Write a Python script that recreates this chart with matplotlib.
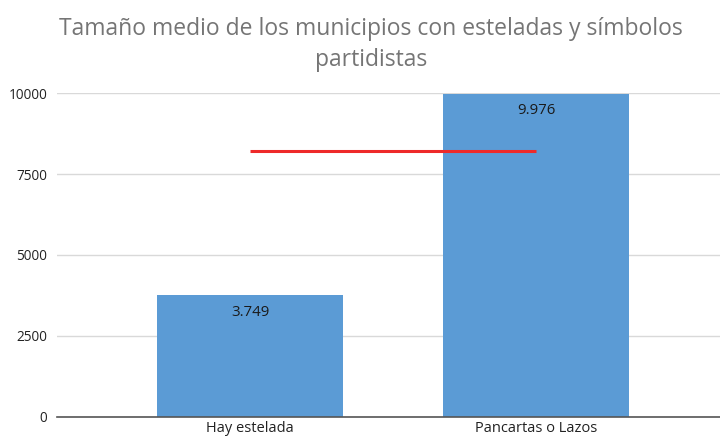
import matplotlib
matplotlib.use("Agg")
import matplotlib.pyplot as plt
from matplotlib.ticker import FixedLocator

categories = ["Hay estelada", "Pancartas o Lazos"]
values = [3749, 9976]
value_labels = ["3.749", "9.976"]
average_line = [8228, 8228]
yticks = [0, 2500, 5000, 7500, 10000]
title = "Tamaño medio de los municipios con esteladas y símbolos\npartidistas"

plt.rcParams['font.family'] = ['Open Sans', 'DejaVu Sans']

fig = plt.figure(figsize=(7.2, 4.37), dpi=100)
ax = fig.add_axes([57/720, 20.3/437, 1 - 57/720, (416.7 - 93.3)/437])

x = list(range(len(categories)))
bars = ax.bar(x, values, width=0.65, color="#5b9bd5", zorder=2)
ax.plot(x, average_line, color="#ee2a2a", linewidth=2.2, zorder=3, solid_capstyle="butt")

for xi, v, lab in zip(x, values, value_labels):
    ax.annotate(lab, (xi, v), xytext=(0, -12), textcoords="offset points",
                ha="center", va="center", fontsize=10.8, color="#1a1a1a", zorder=4)

ax.set_xlim(-0.675, 1.643)
ax.set_ylim(0, 10000)
ax.yaxis.set_major_locator(FixedLocator(yticks))
ax.set_yticklabels([str(t) for t in yticks], fontsize=9.8, color="#222222")
ax.set_xticks(x)
ax.set_xticklabels(categories, fontsize=10.5, color="#222222")
ax.tick_params(axis="both", length=0)
ax.tick_params(axis="y", pad=7)
ax.tick_params(axis="x", pad=3)
ax.grid(axis="y", color="#d9d9d9", linewidth=1.0, zorder=0)
for s in ["top", "right", "left"]:
    ax.spines[s].set_visible(False)
ax.spines["bottom"].set_color("#555555")
ax.spines["bottom"].set_linewidth(1.2)
ax.spines["bottom"].set_zorder(3)

fig.text(371/720, 1 - 44.5/437, title, ha="center", va="center", fontsize=16.5,
         color="#757575", linespacing=1.4)

fig.savefig("out.png", dpi=100)
